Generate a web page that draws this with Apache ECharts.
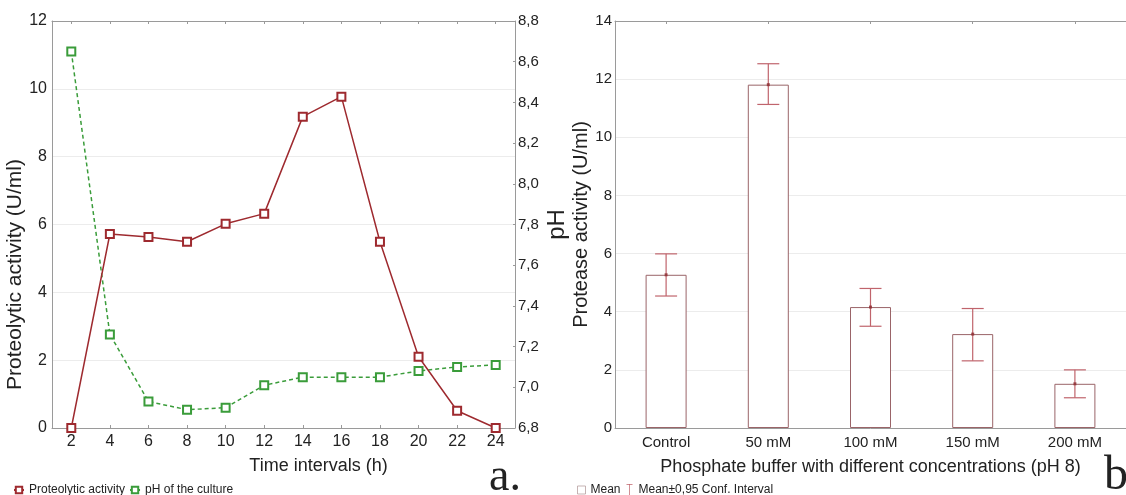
<!DOCTYPE html>
<html>
<head>
<meta charset="utf-8">
<script src="https://cdn.jsdelivr.net/npm/echarts@6/dist/echarts.min.js"></script>
<style>
html,body{margin:0;padding:0;background:#fff;}
#chart{width:1126px;height:495px;}
</style>
</head>
<body>
<div id="chart"></div>
<script>
// ---- Data (panel a) ----
const timeLabels = ['2','4','6','8','10','12','14','16','18','20','22','24'];
const proteolytic = [0, 5.72, 5.63, 5.49, 6.02, 6.32, 9.18, 9.77, 5.49, 2.10, 0.51, 0];
const phCulture = [8.65, 7.26, 6.93, 6.89, 6.90, 7.01, 7.05, 7.05, 7.05, 7.08, 7.10, 7.11];
const activityAxis = {min: 0, max: 12, step: 2};
const phAxis = {min: 6.8, max: 8.8, step: 0.2};

// ---- Data (panel b) ----
const bufferLabels = ['Control', '50 mM', '100 mM', '150 mM', '200 mM'];
const proteaseMean = [5.27, 11.81, 4.16, 3.23, 1.52];
const ciLow = [4.54, 11.13, 3.50, 2.31, 1.04];
const ciHigh = [5.99, 12.53, 4.80, 4.11, 2.00];
const proteaseAxis = {min: 0, max: 14, step: 2};

const FONT = 'Liberation Sans, Arial, sans-serif';
const AXIS_COLOR = '#9a9a9a';
const GRID_COLOR = '#ececec';
const RED = '#9e2a2f';
const GREEN = '#3a9c3a';
const ERR = '#c0646c';

const comma = v => (Math.round(v * 10) / 10).toFixed(1).replace('.', ',');

const chart = echarts.init(document.getElementById('chart'), null, {renderer: 'canvas'});

const option = {
  animation: false,
  backgroundColor: '#fff',
  textStyle: {fontFamily: FONT, color: '#222'},
  grid: [
    {left: 52, top: 21, width: 463, height: 407, containLabel: false},
    {left: 615, top: 21, width: 516, height: 407, containLabel: false}
  ],
  xAxis: [
    {
      type: 'category', gridIndex: 0, data: timeLabels, boundaryGap: true,
      name: 'Time intervals (h)', nameLocation: 'middle', nameGap: 29,
      nameTextStyle: {fontSize: 18, color: '#222', fontFamily: FONT, padding: [0, 0, 0, 70]},
      axisLine: {lineStyle: {color: AXIS_COLOR, width: 1}},
      axisTick: {show: true, inside: true, alignWithLabel: true, length: 3, lineStyle: {color: AXIS_COLOR}},
      axisLabel: {fontSize: 16, color: '#222', margin: 6, fontFamily: FONT},
      splitLine: {show: false}
    },
    {
      type: 'category', gridIndex: 0, data: timeLabels, boundaryGap: true, position: 'top',
      axisLine: {lineStyle: {color: AXIS_COLOR, width: 1}},
      axisTick: {show: true, inside: true, alignWithLabel: true, length: 3, lineStyle: {color: AXIS_COLOR}},
      axisLabel: {show: false}, splitLine: {show: false}
    },
    {
      type: 'category', gridIndex: 1, data: bufferLabels, boundaryGap: true,
      name: 'Phosphate buffer with different concentrations (pH 8)', nameLocation: 'middle', nameGap: 30,
      nameTextStyle: {fontSize: 18, color: '#222', fontFamily: FONT},
      axisLine: {lineStyle: {color: AXIS_COLOR, width: 1}},
      axisTick: {show: false},
      axisLabel: {fontSize: 15, color: '#222', margin: 7, fontFamily: FONT},
      splitLine: {show: false}
    },
    {
      type: 'category', gridIndex: 1, data: bufferLabels, boundaryGap: true, position: 'top',
      axisLine: {lineStyle: {color: AXIS_COLOR, width: 1}},
      axisTick: {show: true, inside: true, alignWithLabel: true, length: 3, lineStyle: {color: AXIS_COLOR}},
      axisLabel: {show: false}, splitLine: {show: false}
    }
  ],
  yAxis: [
    {
      type: 'value', gridIndex: 0, min: activityAxis.min, max: activityAxis.max, interval: activityAxis.step,
      name: 'Proteolytic activity (U/ml)', nameLocation: 'middle', nameGap: 22, nameRotate: 90,
      nameTextStyle: {fontSize: 21, color: '#222', fontFamily: FONT, padding: [0, 100, 0, 0]},
      axisLine: {show: true, lineStyle: {color: AXIS_COLOR, width: 1}},
      axisTick: {show: false},
      axisLabel: {fontSize: 16, color: '#222', margin: 5, fontFamily: FONT},
      splitLine: {show: true, lineStyle: {color: GRID_COLOR, width: 1}}
    },
    {
      type: 'value', gridIndex: 0, min: phAxis.min, max: phAxis.max, interval: phAxis.step, position: 'right',
      name: 'pH', nameLocation: 'middle', nameGap: 30, nameRotate: 90,
      nameTextStyle: {fontSize: 24, color: '#222', fontFamily: FONT},
      axisLine: {show: true, lineStyle: {color: AXIS_COLOR, width: 1}},
      axisTick: {show: true, inside: true, length: 2, lineStyle: {color: AXIS_COLOR}},
      axisLabel: {fontSize: 15, color: '#222', margin: 3, fontFamily: FONT, formatter: comma},
      splitLine: {show: false}
    },
    {
      type: 'value', gridIndex: 1, min: proteaseAxis.min, max: proteaseAxis.max, interval: proteaseAxis.step,
      name: 'Protease activity (U/ml)', nameLocation: 'middle', nameGap: 21, nameRotate: 90,
      nameTextStyle: {fontSize: 20, color: '#222', fontFamily: FONT},
      axisLine: {show: true, lineStyle: {color: AXIS_COLOR, width: 1}},
      axisTick: {show: false},
      axisLabel: {fontSize: 15, color: '#222', margin: 3, fontFamily: FONT},
      splitLine: {show: true, lineStyle: {color: GRID_COLOR, width: 1}}
    }
  ],
  legend: [
    {
      data: ['Proteolytic activity', 'pH of the culture'],
      left: 8, top: 479, itemWidth: 10, itemHeight: 8, itemGap: 4,
      textStyle: {fontSize: 12, color: '#222', fontFamily: FONT},
      selectedMode: false
    },
    {
      data: [
        {name: 'Mean', icon: 'path://M0,0h10v10h-10z', itemStyle: {color: '#fff', borderColor: '#b8a0a0', borderWidth: 1}},
        {name: 'Mean±0,95 Conf. Interval', icon: 'path://M0,0h10v1.2h-4.4v17.6h4.4v1.2h-10v-1.2h4.4v-17.6h-4.4z'}
      ],
      left: 572, top: 479, itemWidth: 8, itemHeight: 12, itemGap: 6,
      textStyle: {fontSize: 12, color: '#222', fontFamily: FONT},
      selectedMode: false
    }
  ],
  series: [
    {
      name: 'Proteolytic activity', type: 'line', xAxisIndex: 0, yAxisIndex: 0,
      data: proteolytic, symbol: 'emptyRect', symbolSize: 8,
      itemStyle: {color: RED, borderWidth: 1.3},
      lineStyle: {color: RED, width: 1.5}, z: 3
    },
    {
      name: 'pH of the culture', type: 'line', xAxisIndex: 0, yAxisIndex: 1,
      data: phCulture, symbol: 'emptyRect', symbolSize: 8,
      itemStyle: {color: GREEN, borderWidth: 1.3},
      lineStyle: {color: GREEN, width: 1.5, type: [4, 3]}, z: 2
    },
    {
      name: 'Bars', type: 'bar', xAxisIndex: 2, yAxisIndex: 2,
      data: proteaseMean, barWidth: 41,
      itemStyle: {color: '#fff', borderColor: '#9a6468', borderWidth: 1},
      z: 2
    },
    {
      name: 'Mean±0,95 Conf. Interval', type: 'custom', xAxisIndex: 2, yAxisIndex: 2,
      itemStyle: {color: ERR},
      data: bufferLabels.map((c, i) => [i, ciLow[i], ciHigh[i]]),
      encode: {x: 0, y: [1, 2]},
      renderItem: function (params, api) {
        const i = api.value(0);
        const lo = api.coord([i, api.value(1)]);
        const hi = api.coord([i, api.value(2)]);
        const hw = 11;
        const st = {stroke: ERR, lineWidth: 1.2};
        return {
          type: 'group',
          children: [
            {type: 'line', shape: {x1: lo[0], y1: lo[1], x2: hi[0], y2: hi[1]}, style: st},
            {type: 'line', shape: {x1: lo[0] - hw, y1: lo[1], x2: lo[0] + hw, y2: lo[1]}, style: st},
            {type: 'line', shape: {x1: hi[0] - hw, y1: hi[1], x2: hi[0] + hw, y2: hi[1]}, style: st}
          ]
        };
      },
      z: 4
    },
    {
      name: 'Mean', type: 'scatter', xAxisIndex: 2, yAxisIndex: 2,
      data: proteaseMean, symbol: 'rect', symbolSize: 3,
      itemStyle: {color: '#8b2a2f'}, z: 5
    }
  ],
  graphic: [
    {type: 'text', left: 489, top: 455, style: {text: 'a.', font: '46px "Liberation Serif", serif', fill: '#222'}},
    {type: 'text', left: 1104, top: 452, style: {text: 'b', font: '48px "Liberation Serif", serif', fill: '#222'}}
  ]
};

chart.setOption(option);
</script>
</body>
</html>
